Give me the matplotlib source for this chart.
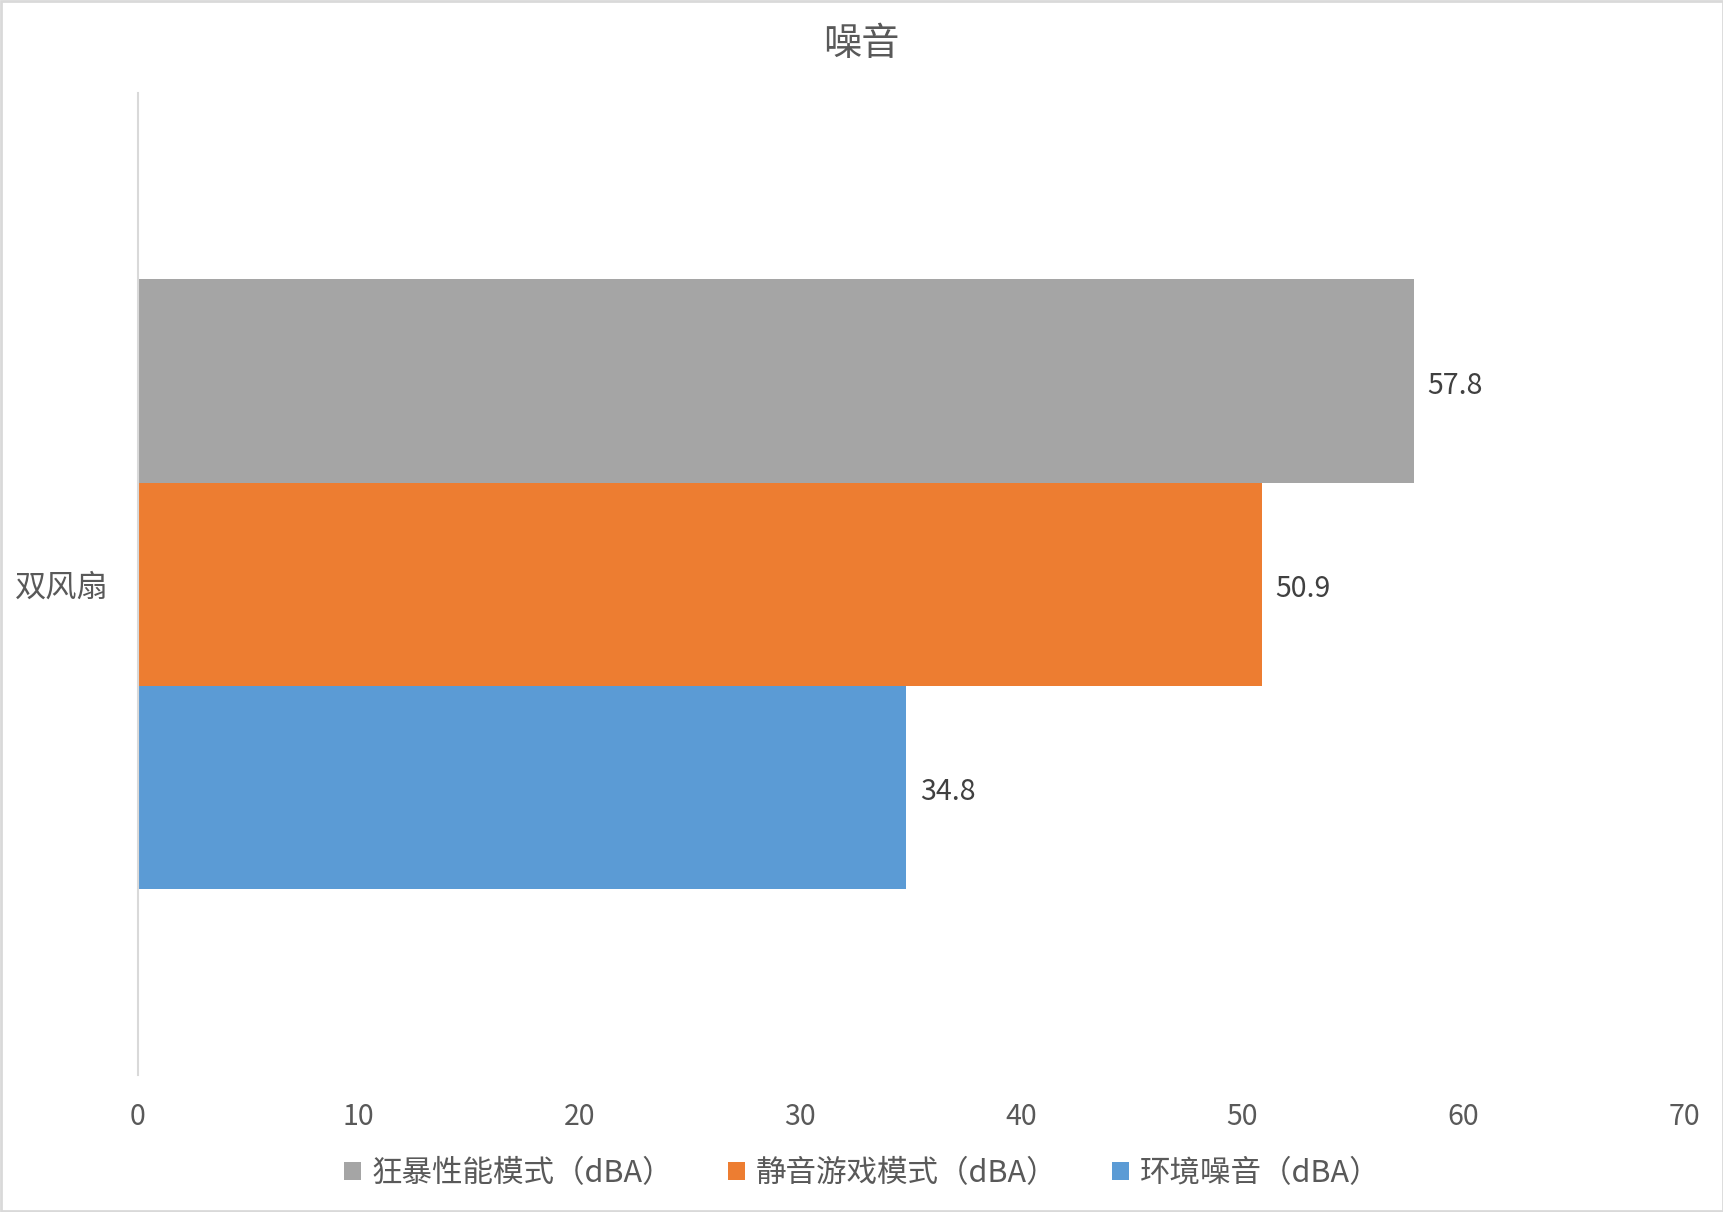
import matplotlib
matplotlib.use('Agg')
import matplotlib.pyplot as plt
import matplotlib.patches as mpatches
import numpy as np

plt.rcParams['font.family'] = ['Noto Sans CJK SC', 'DejaVu Sans']

# data
category = '双风扇'
series_names = ['环境噪音（dBA）', '静音游戏模式（dBA）', '狂暴性能模式（dBA）']
series_values = [34.8, 50.9, 57.8]
series_colors = ['#5B9BD5', '#ED7D31', '#A5A5A5']
x_ticks = [0, 10, 20, 30, 40, 50, 60, 70]

text_color = '#595959'

fig = plt.figure(figsize=(17.24, 12.12), dpi=100)
ax = fig.add_axes([0.0798, 0.113, 0.897, 0.81])

bar_h = 0.207
offsets = (np.arange(len(series_values)) - 1) * bar_h
handles = []
for off, val, name, col in zip(offsets, series_values, series_names, series_colors):
    b = ax.barh(off, val, height=bar_h, color=col, label=name)
    handles.append(b)
    ax.text(val + 0.6, off - 0.005, '{}'.format(val), va='center', ha='left',
            fontsize=20.5, color='#404040')

ax.set_xlim(0, 70)
ax.set_ylim(-0.5, 0.5)
ax.set_xticks(x_ticks)
ax.set_xticklabels([str(t) for t in x_ticks], fontsize=20.5, color=text_color)
ax.set_yticks([0])
ax.set_yticklabels([category], fontsize=22.5, color=text_color)
ax.tick_params(axis='both', length=0)
ax.tick_params(axis='x', pad=19.5)
ax.tick_params(axis='y', pad=21)

for s in ['top', 'right', 'bottom']:
    ax.spines[s].set_visible(False)
ax.spines['left'].set_color('#D9D9D9')
ax.spines['left'].set_linewidth(1.5)

fig.text(0.4995, 0.963, '噪音', ha='center', va='center', fontsize=27.5, color=text_color)

leg = fig.legend(handles=handles[::-1], loc='center', bbox_to_anchor=(0.5, 0.032),
                 ncol=3, frameon=False, fontsize=22, handlelength=0.55, handleheight=0.55,
                 handletextpad=0.35, columnspacing=1.8)
for t in leg.get_texts():
    t.set_color(text_color)

fig.patches.append(mpatches.Rectangle((0.0008, 0.001), 0.9984, 0.998, transform=fig.transFigure,
                                      fill=False, edgecolor='#D9D9D9', linewidth=2))

fig.savefig('out.png', dpi=100, facecolor='white')
